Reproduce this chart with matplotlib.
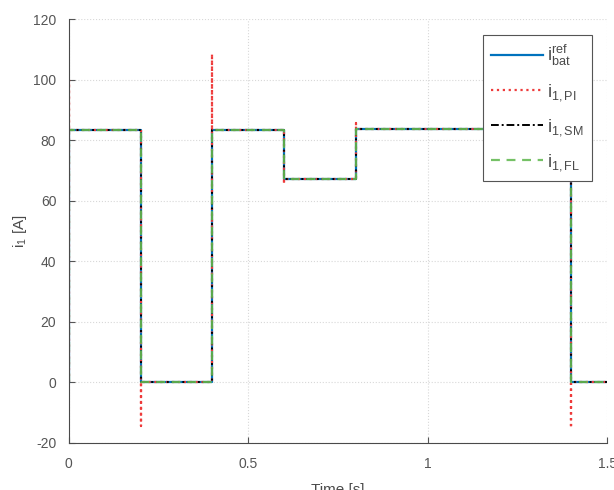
import numpy as np
import matplotlib.pyplot as plt

plt.rcParams['font.family'] = ['Liberation Sans', 'DejaVu Sans']
plt.rcParams['mathtext.fontset'] = 'custom'
plt.rcParams['mathtext.rm'] = 'Liberation Sans'
plt.rcParams['mathtext.it'] = 'Liberation Sans'
plt.rcParams['axes.unicode_minus'] = False

# reference current (step changes)
t_ref = [0, 0, 0.2, 0.4, 0.6, 0.8, 1.4, 1.5]
i_ref = [0, 83.3, 0, 83.3, 67.2, 83.7, 0, 0]

# PI response with overshoot spikes at each step
t_pi = [0, 0, 0, 0.2, 0.2, 0.2, 0.4, 0.4, 0.4, 0.6, 0.6, 0.6,
        0.8, 0.8, 0.8, 1.4, 1.4, 1.4, 1.5]
i_pi = [0, 100, 83.3, 83.3, -14.5, 0, 0, 108.5, 83.3, 83.3, 65.5, 67.2,
        67.2, 85.8, 83.7, 83.7, -15, 0, 0]

# sliding mode and feedback linearisation follow the reference
t_sm = t_ref
i_sm = i_ref
t_fl = t_ref
i_fl = i_ref

fig = plt.figure(figsize=(6.14, 4.9), dpi=100)
ax = fig.add_axes([0.112, 0.096, 0.877, 0.865])

ax.plot(t_ref, i_ref, drawstyle='steps-post', color='#0072BD', lw=1.6,
        label=r'$\mathregular{i^{ref}_{bat}}$')
ax.plot(t_pi, i_pi, color='#EE3B3B', lw=1.6, ls=':',
        label=r'$\mathregular{i_{1,PI}}$')
ax.plot(t_sm, i_sm, drawstyle='steps-post', color='black', lw=1.4,
        ls=(0, (4, 1.5, 1, 1.5)), label=r'$\mathregular{i_{1,SM}}$')
ax.plot(t_fl, i_fl, drawstyle='steps-post', color='#66BB55', lw=1.6,
        ls=(0, (4, 3)), alpha=0.9, label=r'$\mathregular{i_{1,FL}}$')

ax.set_xlim(0, 1.5)
ax.set_ylim(-20, 120)
ax.set_xticks([0, 0.5, 1, 1.5])
ax.set_xticklabels(['0', '0.5', '1', '1.5'])
ax.set_yticks(np.arange(-20, 121, 20))

ax.grid(True, ls=':', color='#d8d8d8', lw=0.8)
for s in ['top', 'right']:
    ax.spines[s].set_visible(False)
for s in ['left', 'bottom']:
    ax.spines[s].set_color('#4a4a4a')
ax.tick_params(direction='in', colors='#555555', labelsize=10, length=4)
ax.tick_params(axis='x', pad=10)
ax.tick_params(axis='y', pad=9)

ax.set_xlabel('Time [s]', fontsize=11, color='#4a4a4a', labelpad=9)
ax.set_ylabel(r'$\mathregular{i_1}$ [A]', fontsize=11, color='#4a4a4a',
              labelpad=3)

leg = ax.legend(loc='upper right', bbox_to_anchor=(0.988, 0.984),
                fontsize=13, handlelength=2.9, handletextpad=0.2,
                labelspacing=0.78, borderpad=0.45, fancybox=False,
                framealpha=1)
leg.get_frame().set_edgecolor('#555555')
leg.get_frame().set_linewidth(0.8)
for txt in leg.get_texts():
    txt.set_color('#4a4a4a')

fig.savefig('out.png', dpi=100)
